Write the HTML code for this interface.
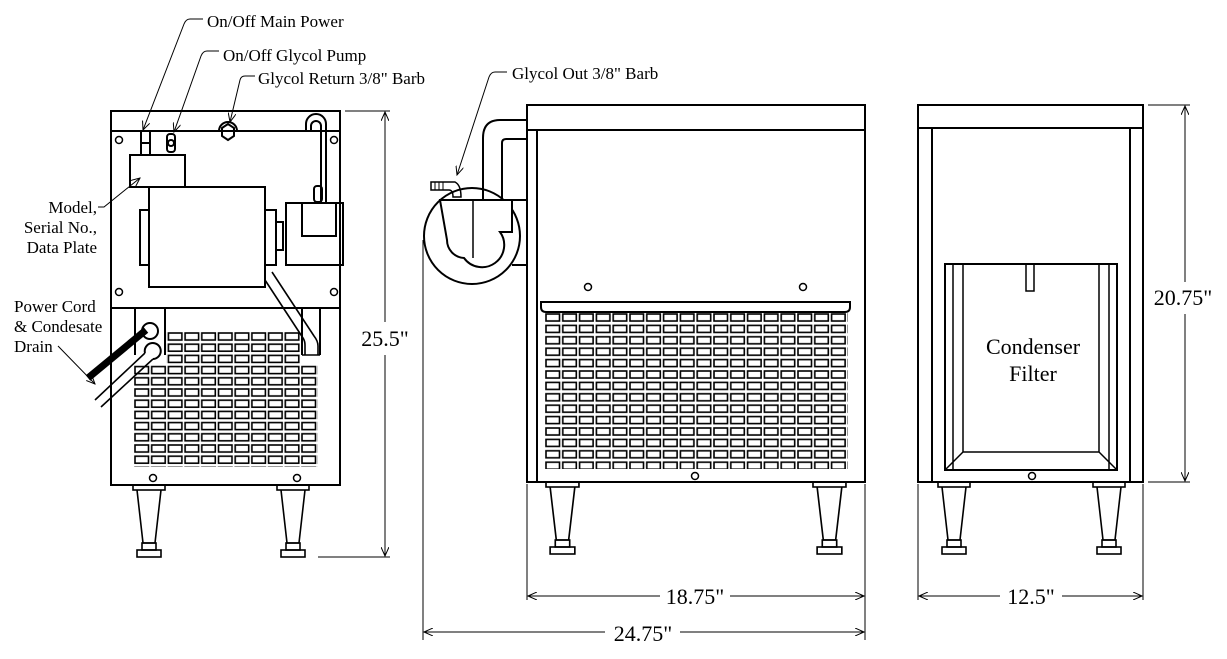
<!DOCTYPE html>
<html><head><meta charset="utf-8"><style>
html,body{margin:0;padding:0;background:#fff}
svg{display:block}
text{font-family:"Liberation Serif",serif;fill:#000}
</style></head><body>
<svg width="1227" height="659" viewBox="0 0 1227 659" xmlns="http://www.w3.org/2000/svg">
<defs>
<pattern id="gl" x="134" y="332" width="16.7" height="11.2" patternUnits="userSpaceOnUse">
<rect x="1" y="1" width="13.5" height="7" fill="none" stroke="#000" stroke-width="1.6"/></pattern>
<pattern id="gm" x="545" y="313" width="16.8" height="11.4" patternUnits="userSpaceOnUse">
<rect x="1" y="1" width="13.5" height="7" fill="none" stroke="#000" stroke-width="1.6"/></pattern>
<marker id="ar" markerWidth="10" markerHeight="8" refX="9" refY="4" orient="auto-start-reverse" markerUnits="userSpaceOnUse">
<path d="M0,0 L9,4 L0,8" fill="none" stroke="#000" stroke-width="1"/></marker>
<g id="ft"><rect x="133" y="485" width="32" height="5" stroke-width="1.6"/>
<path d="M137,490 L143,543 H155 L161,490" stroke-width="1.6"/>
<rect x="142" y="543" width="14" height="7" stroke-width="1.6"/><rect x="137" y="550" width="24" height="7" stroke-width="1.6"/></g>
</defs>
<g fill="none" stroke="#000" stroke-width="2">
<!-- LEFT VIEW -->
<rect x="111" y="111" width="229" height="374"/>
<line x1="111" y1="131" x2="340" y2="131"/>
<line x1="111" y1="308" x2="340" y2="308"/>
<rect x="134" y="332" width="184" height="135" fill="url(#gl)" stroke="none"/>
<rect x="134" y="320" width="32" height="45" fill="#fff" stroke="none"/>
<rect x="301" y="320" width="20" height="45" fill="#fff" stroke="none"/>
<line x1="135" y1="308" x2="135" y2="355"/><line x1="165" y1="308" x2="165" y2="355"/>
<line x1="302" y1="308" x2="302" y2="355"/><line x1="320" y1="308" x2="320" y2="355"/>
<line x1="302" y1="355" x2="320" y2="355" stroke-width="1.5"/>
<circle cx="119" cy="140" r="3.5" stroke-width="1.5"/><circle cx="334" cy="140" r="3.5" stroke-width="1.5"/>
<circle cx="119" cy="292" r="3.5" stroke-width="1.5"/><circle cx="334" cy="292" r="3.5" stroke-width="1.5"/>
<rect x="141" y="131" width="9" height="24"/><line x1="141" y1="143" x2="150" y2="143"/>
<rect x="167" y="134" width="8" height="18" rx="3"/><circle cx="171" cy="143" r="3"/>
<path d="M219,131 A9,9 0 1 1 237,131" />
<polygon points="222,128 228,124 234,128 234,136 228,140 222,136"/>
<path d="M306,131 V124 A10,10 0 0 1 326,124 V203 M311,131 V126 A5,5 0 0 1 321,126 V203" />
<rect x="314" y="186" width="8" height="16" rx="3"/>
<rect x="130" y="155" width="55" height="32"/>
<rect x="149" y="187" width="116" height="100"/>
<rect x="140" y="210" width="9" height="55"/><rect x="265" y="210" width="11" height="55"/>
<rect x="276" y="222" width="7" height="28"/>
<rect x="286" y="203" width="57" height="62"/><rect x="302" y="203" width="34" height="33"/>
<path d="M265,280 L303,338 Q305,341 305,345 V355 M272,272 L314,336 Q318,341 318,346 V355" stroke-width="1.6"/>
<!-- power cord -->
<path d="M88,378 L146,330" stroke-width="7"/>
<circle cx="150" cy="331" r="8"/>
<path d="M95,400 L145,353 M101,407 L153,359" stroke-width="1.6"/>
<path d="M145,353 A8,8 0 1 1 153,359"/>
<use href="#ft"/><use href="#ft" x="144"/>
<circle cx="153" cy="478" r="3.5" stroke-width="1.5"/><circle cx="297" cy="478" r="3.5" stroke-width="1.5"/>
<!-- dims & leaders -->
<g stroke-width="1"><line x1="345" y1="111" x2="390" y2="111"/><line x1="318" y1="557" x2="390" y2="557"/>
<line x1="385" y1="112" x2="385" y2="322" marker-start="url(#ar)"/><line x1="385" y1="355" x2="385" y2="556" marker-end="url(#ar)"/>
<path d="M203,19 H190 Q186,19 184,24 L143,130" marker-end="url(#ar)"/>
<path d="M219,51 H207 Q203,51 201,56 L174,132" marker-end="url(#ar)"/>
<path d="M255,76 H245 Q241,76 240,80 L230,122" marker-end="url(#ar)"/>
<path d="M98,207 H104 L140,178" marker-end="url(#ar)"/>
<path d="M58,346 L95,384" marker-end="url(#ar)"/>
<path d="M507,72 H495 Q491,72 489,77 L457,175" marker-end="url(#ar)"/>
</g>
<!-- MIDDLE VIEW -->
<rect x="527" y="105" width="338" height="377"/>
<line x1="527" y1="130" x2="865" y2="130"/>
<line x1="537" y1="130" x2="537" y2="482"/>
<circle cx="588" cy="287" r="3.5" stroke-width="1.5"/><circle cx="803" cy="287" r="3.5" stroke-width="1.5"/>
<circle cx="695" cy="476" r="3.5" stroke-width="1.5"/>
<rect x="545" y="313" width="303" height="156" fill="url(#gm)" stroke="none"/>
<rect x="541" y="303" width="309" height="8" fill="#fff" stroke="none"/>
<path d="M541,302 H850 V307 Q850,312 845,312 H546 Q541,312 541,307 Z"/>
<path d="M483,200 V138 Q483,120 500,120 H527 M502,200 V143 Q502,139 506,139 H527"/>
<line x1="512" y1="200" x2="527" y2="200"/><line x1="512" y1="265" x2="527" y2="265"/>
<circle cx="472" cy="236" r="48"/>
<path d="M440,200 H512 V232 H500 A20,20 0 0 1 464,258 A18,18 0 0 1 447,240 Z" fill="#fff"/>
<line x1="473" y1="200" x2="473" y2="258" stroke-width="1.5"/>
<path d="M455,182 Q461,185 461,197 H453 Q453,190 449,190 H431 V182 Z" stroke-width="1.5"/>
<path d="M435,182 V190 M439,182 V190 M443,182 V190" stroke-width="1"/>
<line x1="423" y1="240" x2="423" y2="640" stroke-width="1"/>
<g transform="translate(546,0) scale(1.03,1) translate(-133,-3)"><use href="#ft"/></g>
<g transform="translate(813,0) scale(1.03,1) translate(-133,-3)"><use href="#ft"/></g>
<g stroke-width="1">
<line x1="527" y1="484" x2="527" y2="600"/><line x1="865" y1="484" x2="865" y2="640"/>
<line x1="528" y1="596" x2="660" y2="596" marker-start="url(#ar)"/><line x1="730" y1="596" x2="864" y2="596" marker-end="url(#ar)"/>
<line x1="424" y1="632" x2="605" y2="632" marker-start="url(#ar)"/><line x1="680" y1="632" x2="864" y2="632" marker-end="url(#ar)"/>
</g>
<!-- RIGHT VIEW -->
<rect x="918" y="105" width="225" height="377"/>
<line x1="918" y1="128" x2="1143" y2="128"/>
<line x1="932" y1="128" x2="932" y2="482"/><line x1="1130" y1="128" x2="1130" y2="482"/>
<rect x="945" y="264" width="172" height="206"/>
<path d="M953,264 V470 M1109,264 V470" stroke-width="1.5"/>
<path d="M963,264 V452 H1099 V264 M945,470 L963,452 M1117,470 L1099,452" stroke-width="1.5"/>
<rect x="1026" y="264" width="8" height="27" stroke-width="1.5"/>
<circle cx="1032" cy="476" r="3.5" stroke-width="1.5"/>
<use href="#ft" x="805" y="-3"/><use href="#ft" x="960" y="-3"/>
<g stroke-width="1">
<line x1="918" y1="484" x2="918" y2="600"/><line x1="1143" y1="484" x2="1143" y2="600"/>
<line x1="1148" y1="105" x2="1190" y2="105"/><line x1="1148" y1="482" x2="1190" y2="482"/>
<line x1="1185" y1="106" x2="1185" y2="282" marker-start="url(#ar)"/><line x1="1185" y1="314" x2="1185" y2="481" marker-end="url(#ar)"/>
<line x1="919" y1="596" x2="1000" y2="596" marker-start="url(#ar)"/><line x1="1062" y1="596" x2="1142" y2="596" marker-end="url(#ar)"/>
</g>
</g>
<g font-size="17">
<text x="207" y="27">On/Off Main Power</text>
<text x="223" y="61">On/Off Glycol Pump</text>
<text x="258" y="84">Glycol Return 3/8" Barb</text>
<text x="512" y="79">Glycol Out 3/8" Barb</text>
<text x="97" y="213" text-anchor="end">Model,</text>
<text x="97" y="233" text-anchor="end">Serial No.,</text>
<text x="97" y="253" text-anchor="end">Data Plate</text>
<text x="14" y="312">Power Cord</text>
<text x="14" y="332">&amp; Condesate</text>
<text x="14" y="352">Drain</text>
</g>
<g font-size="22">
<text x="385" y="346" text-anchor="middle">25.5"</text>
<text x="695" y="604" text-anchor="middle">18.75"</text>
<text x="643" y="641" text-anchor="middle">24.75"</text>
<text x="1031" y="604" text-anchor="middle">12.5"</text>
<text x="1183" y="305" text-anchor="middle">20.75"</text>
<text x="1033" y="354" text-anchor="middle">Condenser</text>
<text x="1033" y="381" text-anchor="middle">Filter</text>
</g>
</svg>
</body></html>
